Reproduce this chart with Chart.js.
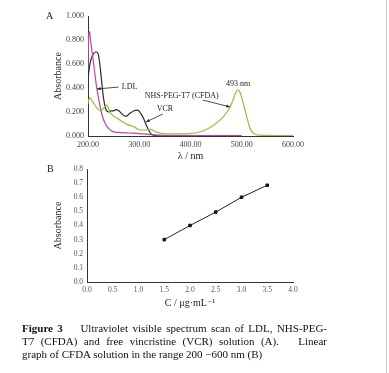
<!DOCTYPE html>
<html><head><meta charset="utf-8">
<script src="https://cdn.jsdelivr.net/npm/chart.js@4/dist/chart.umd.min.js"></script>
<style>
html,body{margin:0;padding:0;background:#fff;}
#wrap{position:relative;width:389px;height:373px;overflow:hidden;font-family:"Liberation Serif","DejaVu Serif",serif;}
canvas{position:absolute;left:0;}
#edge{position:absolute;left:386px;top:0;width:1px;height:373px;background:#ccc;}
.lab{position:absolute;font-size:10px;color:#222;}
#cap{position:absolute;left:22px;top:322px;width:305px;font-size:11px;line-height:13px;color:#111;}
#cap div{text-align:justify;text-align-last:justify;white-space:nowrap;}
#cap div.last{text-align-last:left;}
</style></head>
<body><div id="wrap">
<canvas id="ca" width="389" height="165" style="top:0"></canvas>
<canvas id="cb" width="389" height="150" style="top:160px"></canvas>
<div class="lab" style="left:46px;top:10px;">A</div>
<div class="lab" style="left:47px;top:163px;">B</div>
<div id="cap">
<div style="white-space:normal;text-align-last:justify"><b>Figure 3</b>&nbsp;&nbsp;&nbsp; Ultraviolet visible spectrum scan of LDL, NHS-PEG-</div>
<div style="white-space:normal;text-align-last:justify">T7 (CFDA) and free vincristine (VCR) solution (A).&nbsp;&nbsp; Linear</div>
<div class="last">graph of CFDA solution in the range 200 −600 nm (B)</div>
</div>
<div id="edge"></div>
</div>
<script>
// ---- Panel A: UV-vis spectra ----
const ldlWl  = [200,201,202,203,205,208,211,214,217,220,223,226,230,233,237,242,249,260,280,300,330,360,400,450,500];
const ldlAbs = [0.55,0.80,0.87,0.87,0.80,0.70,0.60,0.50,0.40,0.33,0.26,0.20,0.14,0.11,0.08,0.055,0.036,0.03,0.025,0.02,0.01,0.005,0.004,0.004,0.003];

const vcrWl  = [200,203,206,210,214,217,220,223,226,229,232,235,240,245,250,255,260,265,270,274,278,284,290,296,300,304,308,312,316,320,324,328,335,345];
const vcrAbs = [0.48,0.58,0.64,0.68,0.70,0.70,0.68,0.60,0.48,0.36,0.27,0.22,0.20,0.21,0.21,0.22,0.21,0.19,0.17,0.165,0.175,0.195,0.21,0.215,0.205,0.18,0.15,0.11,0.07,0.035,0.015,0.006,0.002,0.0];

const cfdaWl  = [200,203,210,218,225,230,236,244,257,276,289,302,312,322,335,354,380,399,425,445,464,477,483,488,492,496,500,506,511,516,521,526,535,548,570,600];
const cfdaAbs = [0.27,0.32,0.28,0.23,0.21,0.23,0.26,0.19,0.147,0.097,0.078,0.05,0.05,0.055,0.03,0.017,0.018,0.02,0.044,0.09,0.16,0.24,0.30,0.36,0.385,0.37,0.32,0.22,0.14,0.064,0.03,0.014,0.007,0.005,0.004,0.003];

const xTicksA = [200,300,400,500,600];
const yTicksA = [0,0.2,0.4,0.6,0.8,1.0];

// annotation labels (data coordinates)
const notesA = [
  {text:'LDL', tx:266, ty:0.41, align:'left', from:[260,0.408], to:[217.5,0.392]},
  {text:'NHS-PEG-T7 (CFDA)', tx:383, ty:0.333, align:'center', from:[424,0.30], to:[477,0.242]},
  {text:'VCR', tx:350, ty:0.225, align:'center', from:[346,0.183], to:[313,0.117]},
  {text:'493 nm', tx:493, ty:0.433, align:'center'}
];

// ---- Panel B: calibration line ----
const concB = [1.5,2.0,2.5,3.0,3.5];
const absB  = [0.30,0.40,0.495,0.60,0.685];

const pairs = (xs, ys) => xs.map((x,i)=>({x:x, y:ys[i]}));
const serif = '"Liberation Serif","DejaVu Serif",serif';

const notePlugin = {
  id:'notes',
  afterDatasetsDraw(chart){
    const ctx = chart.ctx, xs = chart.scales.x, ys = chart.scales.y;
    ctx.save();
    ctx.font = '8px ' + serif;
    ctx.fillStyle = '#222';
    ctx.strokeStyle = '#222';
    ctx.lineWidth = 0.8;
    ctx.textBaseline = 'middle';
    notesA.forEach(n=>{
      ctx.textAlign = n.align;
      ctx.fillText(n.text, xs.getPixelForValue(n.tx), ys.getPixelForValue(n.ty));
      if(n.from){
        const x1 = xs.getPixelForValue(n.from[0]), y1 = ys.getPixelForValue(n.from[1]);
        const x2 = xs.getPixelForValue(n.to[0]), y2 = ys.getPixelForValue(n.to[1]);
        ctx.beginPath(); ctx.moveTo(x1,y1); ctx.lineTo(x2,y2); ctx.stroke();
        const a = Math.atan2(y2-y1, x2-x1), L = 4;
        ctx.beginPath();
        ctx.moveTo(x2,y2);
        ctx.lineTo(x2 - L*Math.cos(a-0.4), y2 - L*Math.sin(a-0.4));
        ctx.lineTo(x2 - L*Math.cos(a+0.4), y2 - L*Math.sin(a+0.4));
        ctx.closePath(); ctx.fill();
      }
    });
    ctx.restore();
  }
};

const lineDs = (data, color) => ({data:data, borderColor:color, borderWidth:1.2, pointRadius:0, cubicInterpolationMode:'monotone', fill:false});

new Chart(document.getElementById('ca'), {
  type:'line',
  data:{datasets:[
    lineDs(pairs(cfdaWl, cfdaAbs), '#8cc43e'),
    lineDs(pairs(ldlWl, ldlAbs), '#c0449c'),
    lineDs(pairs(vcrWl, vcrAbs), '#2a2a2a')
  ]},
  options:{
    responsive:false, animation:false,
    layout:{padding:{left:52,right:96,top:16,bottom:0}},
    plugins:{legend:{display:false}, tooltip:{enabled:false}},
    scales:{
      x:{type:'linear', min:200, max:600,
        afterBuildTicks:s=>{s.ticks = xTicksA.map(v=>({value:v}));},
        afterFit:s=>{s.height = 29;},
        grid:{display:false, drawTicks:true, tickLength:3, tickColor:'#333'},
        border:{color:'#333', width:1},
        ticks:{font:{family:serif,size:8}, color:'#444', padding:1, maxRotation:0, callback:v=>v.toFixed(2)},
        title:{display:true, text:'λ / nm', font:{family:serif,size:10}, color:'#222', padding:{top:0,bottom:3}}
      },
      y:{min:0, max:1,
        afterBuildTicks:s=>{s.ticks = yTicksA.map(v=>({value:v}));},
        afterFit:s=>{s.width = 36;},
        grid:{display:false, drawTicks:true, tickLength:3, tickColor:'#333'},
        border:{color:'#333', width:1},
        ticks:{font:{family:serif,size:8}, color:'#444', padding:1, callback:v=>v.toFixed(3)},
        title:{display:true, text:'Absorbance', font:{family:serif,size:10}, color:'#222', padding:{top:0,bottom:0}}
      }
    }
  },
  plugins:[notePlugin]
});

new Chart(document.getElementById('cb'), {
  type:'line',
  data:{datasets:[{data:pairs(concB, absB), borderColor:'#222', borderWidth:1, pointRadius:1.8, pointStyle:'rect', pointBackgroundColor:'#111', pointBorderColor:'#111', tension:0}]},
  options:{
    responsive:false, animation:false,
    layout:{padding:{left:52,right:96,top:9,bottom:0}},
    plugins:{legend:{display:false}, tooltip:{enabled:false}},
    scales:{
      x:{type:'linear', min:0, max:4,
        ticks:{stepSize:0.5, font:{family:serif,size:7.5}, color:'#555', padding:1, maxRotation:0, callback:v=>v.toFixed(1)},
        afterFit:s=>{s.height = 28;},
        grid:{display:false, drawTicks:true, tickLength:3, tickColor:'#444'},
        border:{color:'#333', width:1},
        title:{display:true, text:'C / μg·mL⁻¹', font:{family:serif,size:10}, color:'#222', padding:{top:0,bottom:1}}
      },
      y:{min:0, max:0.8,
        ticks:{stepSize:0.1, font:{family:serif,size:7.5}, color:'#555', padding:1, callback:v=>v.toFixed(1)},
        afterFit:s=>{s.width = 35;},
        grid:{display:false, drawTicks:true, tickLength:3, tickColor:'#444'},
        border:{color:'#333', width:1},
        title:{display:true, text:'Absorbance', font:{family:serif,size:10}, color:'#222', padding:{top:0,bottom:0}}
      }
    }
  }
});
</script>
</body></html>
